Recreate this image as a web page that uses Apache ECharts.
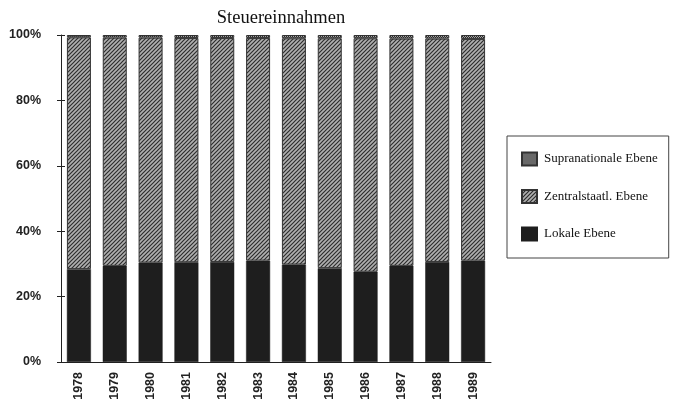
<!DOCTYPE html>
<html><head><meta charset="utf-8">
<script src="https://cdn.jsdelivr.net/npm/echarts@6/dist/echarts.min.js"></script>
<style>html,body{margin:0;padding:0;background:#fff}#c{width:673px;height:406px}</style>
</head><body><div id="c"></div>
<script>
var years = ['1978','1979','1980','1981','1982','1983','1984','1985','1986','1987','1988','1989'];
var lokal = [28.4, 29.4, 30.4, 30.5, 30.6, 31.0, 29.8, 28.7, 27.6, 29.4, 30.6, 31.0];
var supra = [0.7, 0.8, 0.8, 0.9, 0.9, 0.9, 1.0, 1.0, 1.0, 1.1, 1.1, 1.2];
var zentral = lokal.map(function(v, i){ return +(100 - v - supra[i]).toFixed(1); });
var yTicks = ['0%','20%','40%','60%','80%','100%'];
var names = ['Supranationale Ebene','Zentralstaatl. Ebene','Lokale Ebene'];

function hatch(){
  var c = document.createElement('canvas'); c.width = 4; c.height = 4;
  var g = c.getContext('2d');
  g.fillStyle = '#b0b0b0'; g.fillRect(0,0,4,4);
  g.strokeStyle = '#2e2e2e'; g.lineWidth = 1.2;
  g.beginPath();
  g.moveTo(0,4); g.lineTo(4,0);
  g.moveTo(-2,2); g.lineTo(2,-2);
  g.moveTo(2,6); g.lineTo(6,2);
  g.stroke();
  return {image: c, repeat: 'repeat'};
}
function checker(){
  var c = document.createElement('canvas'); c.width = 4; c.height = 4;
  var g = c.getContext('2d');
  g.fillStyle = '#a8a8a8'; g.fillRect(0,0,4,4);
  g.fillStyle = '#2a2a2a';
  g.fillRect(0,0,1,1); g.fillRect(2,0,1,1); g.fillRect(1,1,1,1); g.fillRect(3,1,1,1);
  g.fillRect(0,2,1,1); g.fillRect(2,2,1,1); g.fillRect(1,3,1,1); g.fillRect(3,3,1,1);
  return {image: c, repeat: 'repeat'};
}

var chart = echarts.init(document.getElementById('c'));
var axisLbl = {fontFamily: 'Liberation Sans, Arial, sans-serif', fontWeight: 'bold', fontSize: 12.5, color: '#222'};
chart.setOption({
  animation: false,
  backgroundColor: '#fff',
  title: {text: 'Steuereinnahmen', left: 276, textAlign: 'center', top: 4,
    textStyle: {fontFamily: 'Liberation Serif, Times New Roman, serif', fontWeight: 'normal', fontSize: 18.5, color: '#111'}},
  grid: {left: 61, right: 182, top: 35, bottom: 44},
  legend: {
    orient: 'vertical', left: 507, top: 136,
    data: names,
    itemWidth: 15, itemHeight: 13, itemGap: 22.5,
    borderColor: '#444', borderWidth: 1, borderRadius: 0,
    padding: [15.5, 11, 16.5, 14],
    textStyle: {fontFamily: 'Liberation Serif, Times New Roman, serif', fontSize: 13, lineHeight: 13, color: '#111', padding: [0, 0, 0, 2]},
    icon: 'rect'
  },
  xAxis: [
    {type: 'category', data: years, boundaryGap: true,
     axisLine: {lineStyle: {color: '#222', width: 1}},
     axisTick: {alignWithLabel: false, length: 4, lineStyle: {color: '#222'}},
     axisLabel: Object.assign({rotate: 90, margin: 10}, axisLbl)},
    {type: 'category', data: years, boundaryGap: true, position: 'bottom',
     axisLine: {show: false},
     axisTick: {inside: true, length: 4, lineStyle: {color: '#222'}},
     axisLabel: {show: false}}
  ],
  yAxis: [
    {type: 'value', min: 0, max: 100, interval: 20,
     axisLine: {show: true, lineStyle: {color: '#222', width: 1}},
     axisTick: {show: true, length: 4, lineStyle: {color: '#222'}},
     splitLine: {show: false},
     axisLabel: Object.assign({margin: 20, formatter: function(v){ return yTicks[v/20]; }}, axisLbl)},
    {type: 'value', min: 0, max: 100, interval: 20, position: 'left',
     axisLine: {show: false},
     axisTick: {show: true, inside: true, length: 4, lineStyle: {color: '#222'}},
     splitLine: {show: false}, axisLabel: {show: false}}
  ],
  series: [
    {name: 'Lokale Ebene', type: 'bar', stack: 's', data: lokal, barWidth: 24,
     itemStyle: {color: '#1e1e1e', borderColor: '#1e1e1e', borderWidth: 0.5}},
    {name: 'Zentralstaatl. Ebene', type: 'bar', stack: 's', data: zentral, barWidth: 24,
     itemStyle: {color: hatch(), borderColor: '#333', borderWidth: 1}},
    {name: 'Supranationale Ebene', type: 'bar', stack: 's', data: supra, barWidth: 24,
     itemStyle: {color: checker(), borderColor: '#333', borderWidth: 1}}
  ]
});
</script></body></html>
